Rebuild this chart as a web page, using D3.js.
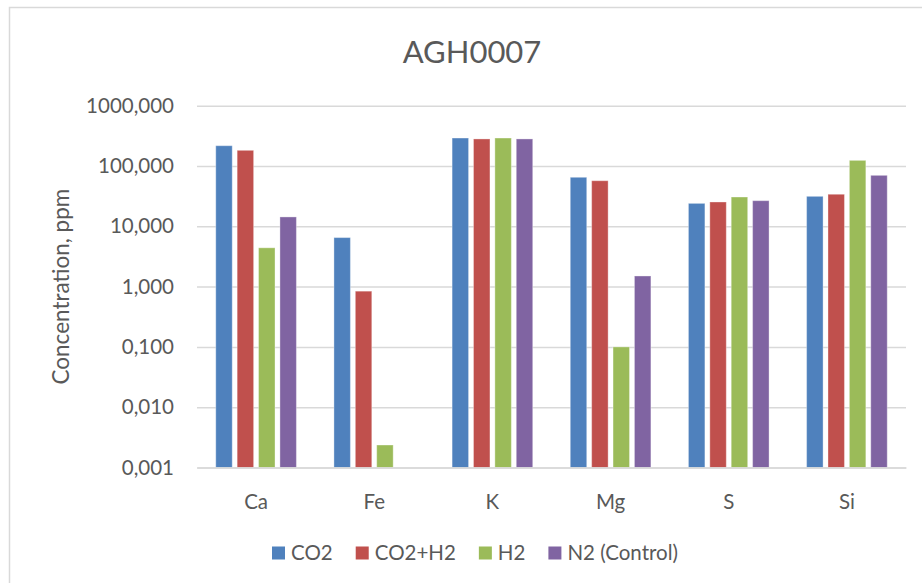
<!DOCTYPE html>
<html>
<head>
<meta charset="utf-8">
<script src="https://cdn.jsdelivr.net/npm/d3@7"></script>
<style>
  html, body { margin: 0; padding: 0; background: #fff; }
  svg { display: block; font-family: Lato, "Open Sans", sans-serif; }
</style>
</head>
<body>
<svg id="chart" width="922" height="583"></svg>
<script>
// ---- data ----
const categories = ["Ca", "Fe", "K", "Mg", "S", "Si"];
const seriesNames = ["CO2", "CO2+H2", "H2", "N2 (Control)"];
const co2      = [217, 6.5, 291, 65, 24, 31.4];
const co2h2    = [182, 0.84, 281, 57, 25.3, 34];
const h2       = [4.4, 0.00236, 291, 0.1, 30.6, 124];
const n2       = [14.3, null, 281, 1.5, 26.6, 70];
const seriesValues = [co2, co2h2, h2, n2];
const yTicks = [0.001, 0.01, 0.1, 1, 10, 100, 1000];
const colors = ["#4F81BD", "#C0504D", "#9BBB59", "#8064A2"];

// ---- layout ----
const svg = d3.select("#chart");
const plot = { left: 197, right: 906, top: 105.7, bottom: 467.5 };
const textColor = "#595959";
const gridColor = "#d9d9d9";
const fs = 20.5;

// chart frame
svg.append("rect")
  .attr("x", 9.5).attr("y", 7.5).attr("width", 1000).attr("height", 1000)
  .attr("fill", "none").attr("stroke", gridColor).attr("stroke-width", 1.5);

const x0 = d3.scaleBand().domain(categories)
  .range([plot.left, plot.right]).paddingInner(0.276).paddingOuter(0.138);
const x1 = d3.scaleBand().domain(seriesNames)
  .range([0, x0.bandwidth()]).paddingInner(0.23).paddingOuter(0.115);
const y = d3.scaleLog().domain([0.001, 1000]).range([plot.bottom, plot.top]);

const locale = d3.formatLocale({ decimal: ",", thousands: "", grouping: [3], currency: ["", ""] });
const fmt = locale.format(".3f");

// y axis with gridlines
const yAxis = svg.append("g")
  .attr("transform", `translate(${plot.left},0)`)
  .call(d3.axisLeft(y).tickValues(yTicks).tickFormat(fmt)
    .tickSizeInner(-(plot.right - plot.left)).tickSizeOuter(0).tickPadding(23));
yAxis.select(".domain").remove();
yAxis.selectAll(".tick line").attr("stroke", gridColor).attr("stroke-width", 1.5);
yAxis.selectAll(".tick text").attr("fill", textColor).attr("font-size", fs)
  .attr("font-family", "Lato, 'Open Sans', sans-serif");

// bars
const groups = svg.append("g").selectAll("g")
  .data(categories).join("g")
  .attr("transform", d => `translate(${x0(d)},0)`);
groups.selectAll("rect")
  .data((c, i) => seriesNames.map((s, j) => ({ s, j, v: seriesValues[j][i] })).filter(d => d.v != null && d.v > 0))
  .join("rect")
  .attr("x", d => x1(d.s))
  .attr("width", x1.bandwidth())
  .attr("y", d => y(d.v))
  .attr("height", d => y(0.001) - y(d.v))
  .attr("fill", d => colors[d.j])
  .attr("stroke", "#ffffff").attr("stroke-opacity", 0.35).attr("stroke-width", 1);

// x axis
const xAxis = svg.append("g")
  .attr("transform", `translate(0,${plot.bottom})`)
  .call(d3.axisBottom(x0).tickSize(0).tickPadding(27));
xAxis.select(".domain").attr("stroke", gridColor).attr("stroke-width", 1.5);
xAxis.selectAll(".tick text").attr("fill", textColor).attr("font-size", fs)
  .attr("font-family", "Lato, 'Open Sans', sans-serif");

// y axis title
svg.append("text")
  .attr("transform", `translate(69,${(plot.top + plot.bottom) / 2}) rotate(-90)`)
  .attr("text-anchor", "middle")
  .attr("fill", textColor).attr("font-size", 22.5)
  .text("Concentration, ppm");

// title
svg.append("text")
  .attr("x", 472).attr("y", 63)
  .attr("text-anchor", "middle")
  .attr("fill", textColor).attr("font-size", 31)
  .text("AGH0007");

// legend
const legend = svg.append("g");
const items = legend.selectAll("g").data(seriesNames).join("g");
items.append("rect").attr("width", 13).attr("height", 13).attr("y", -6.5)
  .attr("fill", (d, i) => colors[i]);
items.append("text").attr("x", 19).attr("dy", "0.35em")
  .attr("fill", textColor).attr("font-size", fs).text(d => d);
let cx = 0;
items.each(function () {
  const w = d3.select(this).select("text").node().getComputedTextLength();
  d3.select(this).attr("transform", `translate(${cx},0)`);
  cx += 19 + w + 23;
});
legend.attr("transform", `translate(272,553)`);
</script>
</body>
</html>
